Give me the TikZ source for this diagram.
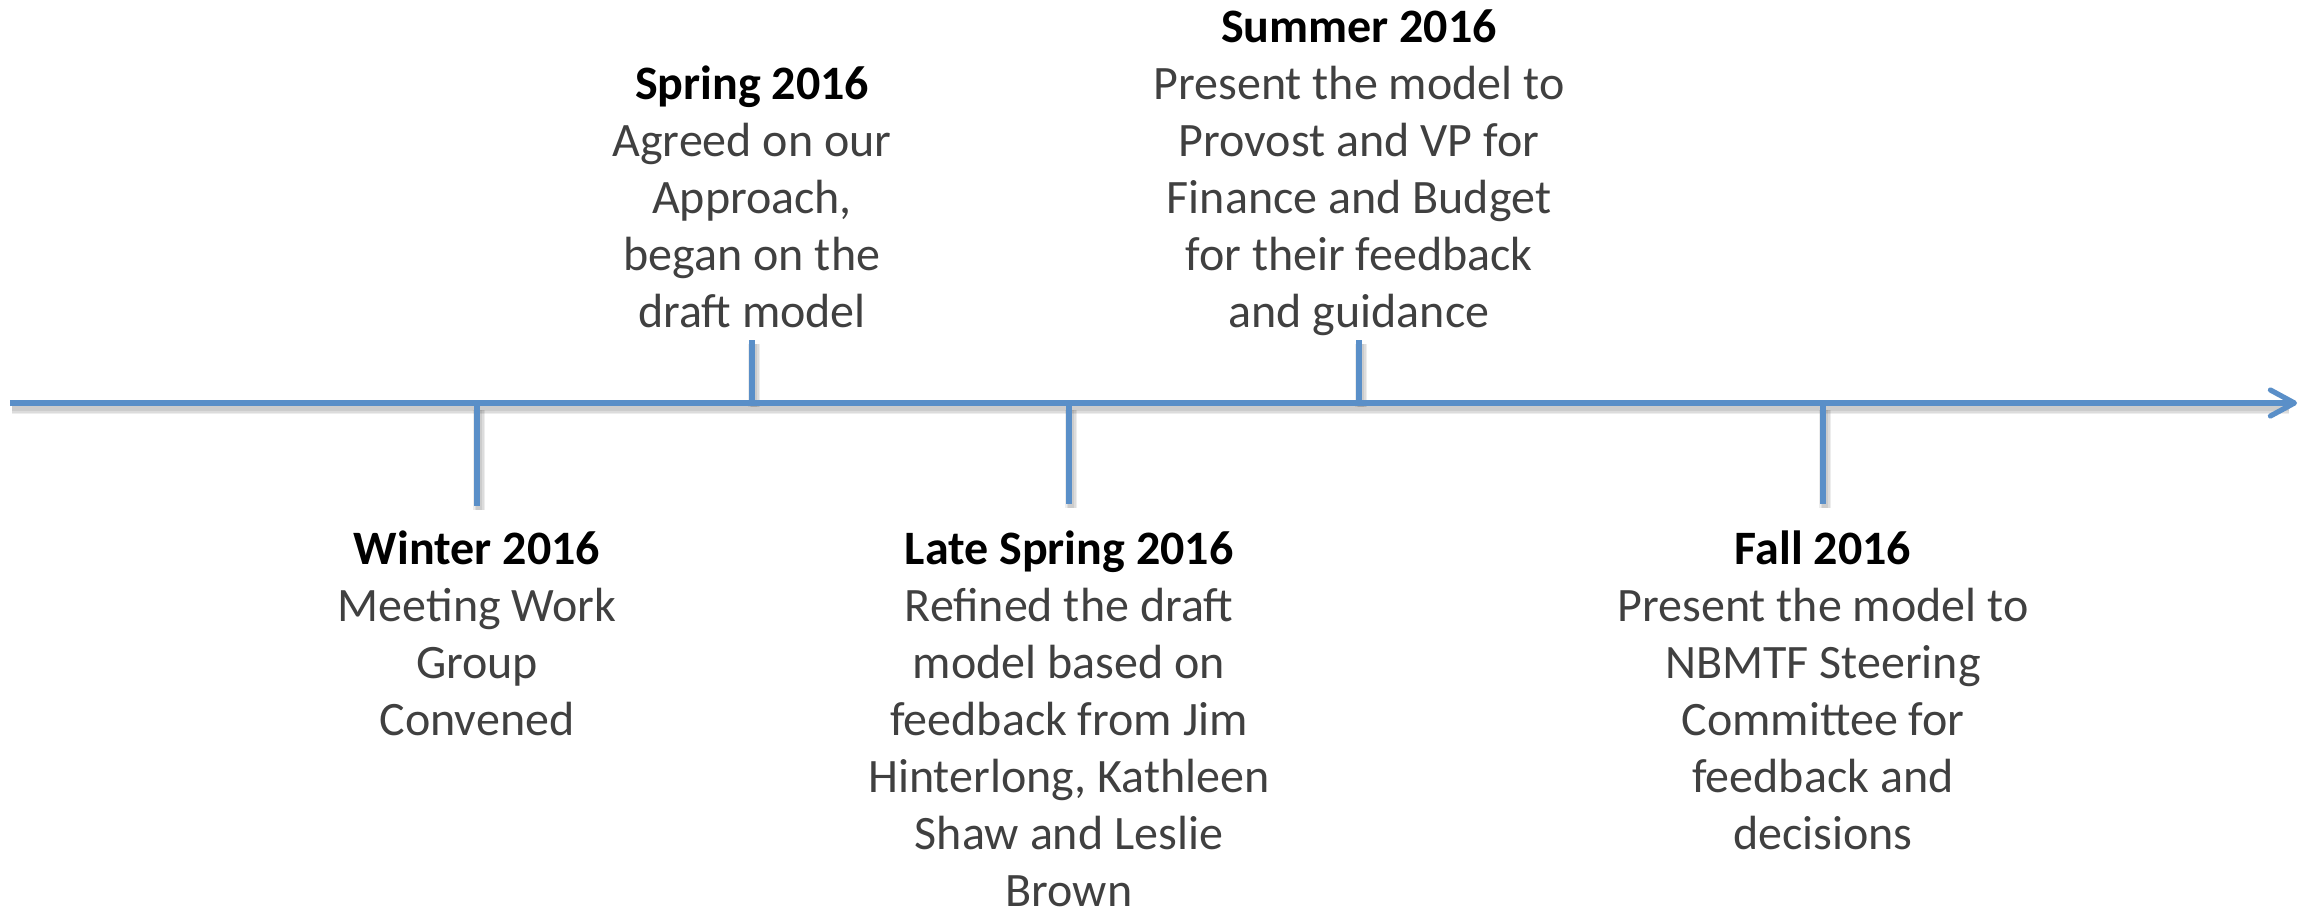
\documentclass[tikz,border=0pt]{standalone}
\usepackage{fontspec}
\setmainfont{Carlito}
\usetikzlibrary{arrows.meta}
\definecolor{axisblue}{RGB}{90,143,200}
\definecolor{bodygray}{RGB}{64,64,64}
\begin{document}
\begin{tikzpicture}[x=0.5pt,y=-0.5pt,
  axis/.style={draw=axisblue,line width=2.6pt},
  tick/.style={draw=axisblue,line width=2.8pt},
  shade/.style={draw=black,line width=#1,opacity=0.07},
  % base anchor of a multi-line node sits on its last line
  event/.style={align=center,inner sep=0pt,anchor=base,
    font=\fontsize{24}{28.5}\selectfont,text=bodygray}]
\useasboundingbox (0,0) rectangle (2305,911);

% points on the time axis
\coordinate (start) at (10,403);
\coordinate (tip) at (2297,403);
\coordinate (wa) at (477,406);   \coordinate (wb) at (477,506);
\coordinate (sa) at (752,340);   \coordinate (sb) at (752,403);
\coordinate (la) at (1069,406);  \coordinate (lb) at (1069,504);
\coordinate (ua) at (1359,340);  \coordinate (ub) at (1359,403);
\coordinate (fa) at (1823,406);  \coordinate (fb) at (1823,504);

% soft shadow under the axis and ticks
\foreach \w in {6pt,4.5pt,3pt}{
  \draw[shade=\w] ([shift={(2,5)}]start) -- ([shift={(-8,5)}]tip);
  \draw[shade=\w] ([shift={(2,4)}]wa) -- ([shift={(2,4)}]wb);
  \draw[shade=\w] ([shift={(2,4)}]la) -- ([shift={(2,4)}]lb);
  \draw[shade=\w] ([shift={(2,4)}]fa) -- ([shift={(2,4)}]fb);
  \draw[shade=\w] ([shift={(2,4)}]sa) -- ([shift={(2,4)}]sb);
  \draw[shade=\w] ([shift={(2,4)}]ua) -- ([shift={(2,4)}]ub);
}

% time axis
\draw[axis,-{Straight Barb[length=12pt,width=13pt,round]}] (start) -- (tip);

% ticks
\draw[tick] (wa) -- (wb);
\draw[tick] (sa) -- (sb);
\draw[tick] (la) -- (lb);
\draw[tick] (ua) -- (ub);
\draw[tick] (fa) -- (fb);

% events
\node[event] (winter) at (477,735) {{\bfseries\color{black}Winter 2016}\\Meeting Work\\Group\\Convened};
\node[event] (spring) at (752,327) {{\bfseries\color{black}Spring 2016}\\Agreed on our\\Approach,\\began on the\\draft model};
\node[event] (late) at (1069,906) {{\bfseries\color{black}Late Spring 2016}\\Refined the draft\\model based on\\feedback from Jim\\Hinterlong, Kathleen\\Shaw and Leslie\\Brown};
\node[event] (summer) at (1359,327) {{\bfseries\color{black}Summer 2016}\\Present the model to\\Provost and VP for\\Finance and Budget\\for their feedback\\and guidance};
\node[event] (fall) at (1823,849) {{\bfseries\color{black}Fall 2016}\\Present the model to\\NBMTF Steering\\Committee for\\feedback and\\decisions};
\end{tikzpicture}
\end{document}
